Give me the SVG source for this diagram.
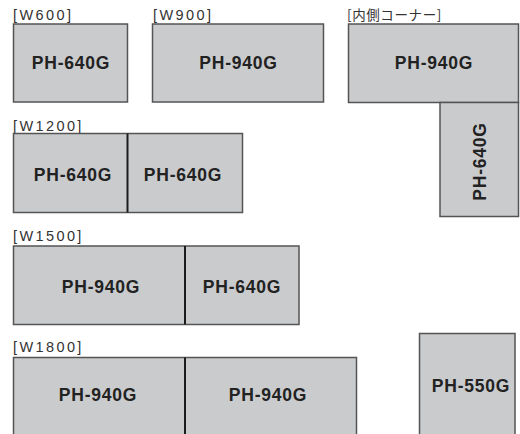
<svg xmlns="http://www.w3.org/2000/svg" width="520" height="434" viewBox="0 0 520 434">
<style>
.box{fill:#cacbcd;stroke:#545454;stroke-width:1.5}
.div{stroke:#1c1c1c;stroke-width:2}
.lbl{font-family:"Liberation Sans","Noto Sans CJK JP",sans-serif;font-size:14.5px;fill:#333;letter-spacing:2.4px}
.jp{font-family:"Noto Sans CJK JP","Liberation Sans",sans-serif;font-size:13.5px;fill:#333;letter-spacing:0.6px}
.pn{font-family:"Liberation Sans",Arial,sans-serif;font-size:17.5px;font-weight:bold;fill:#222;letter-spacing:0.8px;text-anchor:middle}
</style>
<rect width="520" height="434" fill="#fff"/>
<g id="labels">
<text class="lbl" x="13" y="19.5">[W600]</text>
<text class="lbl" x="153" y="19.5">[W900]</text>
<text class="jp" x="347" y="19.5">[内側コーナー]</text>
<text class="lbl" x="13" y="130.5">[W1200]</text>
<text class="lbl" x="13" y="241">[W1500]</text>
<text class="lbl" x="13" y="352">[W1800]</text>
</g>
<g id="w600">
<rect class="box" x="13.5" y="24" width="114" height="78"/>
<text class="pn" x="71" y="69">PH-640G</text>
</g>
<g id="w900">
<rect class="box" x="152.5" y="24" width="171" height="78"/>
<text class="pn" x="238.5" y="69">PH-940G</text>
</g>
<g id="corner-top">
<rect class="box" x="348.5" y="24" width="170" height="78.5"/>
<text class="pn" x="434" y="69">PH-940G</text>
</g>
<g id="corner-side">
<rect class="box" x="440" y="102.5" width="78.5" height="114"/>
<text class="pn" transform="translate(485.5,161.5) rotate(-90)" x="0" y="0">PH-640G</text>
</g>
<g id="w1200">
<rect class="box" x="13.5" y="133.5" width="229" height="79"/>
<line class="div" x1="127.5" y1="133.5" x2="127.5" y2="212.5"/>
<text class="pn" x="73" y="180.5">PH-640G</text>
<text class="pn" x="183" y="180.5">PH-640G</text>
</g>
<g id="w1500">
<rect class="box" x="13.5" y="246" width="285.5" height="78.5"/>
<line class="div" x1="185" y1="246" x2="185" y2="324.5"/>
<text class="pn" x="101" y="292.5">PH-940G</text>
<text class="pn" x="242" y="292.5">PH-640G</text>
</g>
<g id="w1800">
<rect class="box" x="13.5" y="357.5" width="343" height="90"/>
<line class="div" x1="185" y1="357.5" x2="185" y2="440"/>
<text class="pn" x="98" y="401">PH-940G</text>
<text class="pn" x="268" y="401">PH-940G</text>
</g>
<g id="ph550">
<rect class="box" x="419.5" y="333.5" width="95.5" height="110"/>
<text class="pn" x="471" y="391.5">PH-550G</text>
</g>
<g id="connectors"/>
</svg>
